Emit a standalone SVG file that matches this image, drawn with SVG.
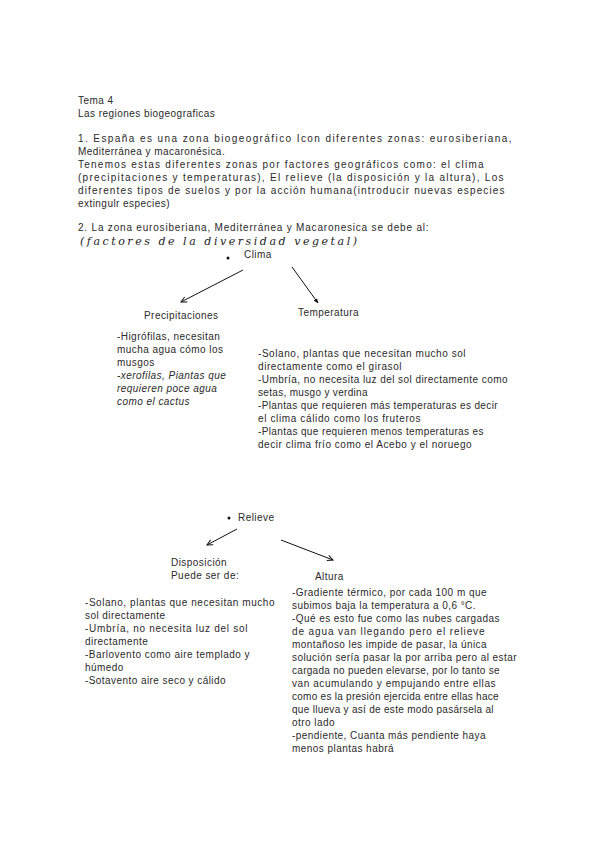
<svg xmlns="http://www.w3.org/2000/svg" width="600" height="848" viewBox="0 0 600 848">
<defs>
<style>
text{font-family:"Liberation Sans",Arial,sans-serif;font-size:10px;letter-spacing:0.45px;fill:#2a2a2a;}
.it{font-style:italic;}
.hw{font-family:"DejaVu Serif",serif;font-style:italic;font-size:11px;letter-spacing:0;fill:#222;}
.c{stroke:#111;stroke-width:1;fill:none;}
</style>
<marker id="ah" viewBox="0 0 10 10" refX="9" refY="5" markerWidth="7" markerHeight="7" orient="auto" markerUnits="userSpaceOnUse">
<path d="M1,1 L9,5 L1,9" fill="none" stroke="#111" stroke-width="1.4"/>
</marker>
<marker id="ahf" viewBox="0 0 10 10" refX="9" refY="5" markerWidth="5" markerHeight="5" orient="auto" markerUnits="userSpaceOnUse">
<path d="M0,1 L10,5 L0,9 Z" fill="#111"/>
</marker>
</defs>
<rect width="600" height="848" fill="#fff"/>

<g id="intro">
<text x="78" y="104">Tema 4</text>
<text x="78" y="117">Las regiones biogeograficas</text>
<text x="78" y="142" textLength="434" lengthAdjust="spacing">1. España es una zona biogeográfico Icon diferentes zonas: eurosiberiana,</text>
<text x="78" y="155">Mediterránea y macaronésica.</text>
<text x="78" y="168" textLength="406" lengthAdjust="spacing">Tenemos estas diferentes zonas por factores geográficos como: el clima</text>
<text x="78" y="181" textLength="426" lengthAdjust="spacing">(precipitaciones y temperaturas), El relieve (la disposición y la altura), Los</text>
<text x="78" y="194" textLength="427" lengthAdjust="spacing">diferentes tipos de suelos y por la acción humana(introducir nuevas especies</text>
<text x="78" y="207">extingulr especies)</text>
<text x="78" y="231" textLength="351" lengthAdjust="spacing">2. La zona eurosiberiana, Mediterránea y Macaronesica se debe al:</text>
<text class="hw" x="80" y="245" textLength="277" lengthAdjust="spacing">(factores de la diversidad vegetal)</text>
</g>

<g id="clima">
<circle cx="228" cy="258" r="1.5" fill="#111"/>
<text x="244" y="258">Clima</text>
</g>

<g id="precipitaciones">
<text x="144" y="319">Precipitaciones</text>
<text x="117" y="340">-Higrófilas, necesitan</text>
<text x="117" y="353">mucha agua cómo los</text>
<text x="117" y="366">musgos</text>
<text class="it" x="117" y="379">-xerofilas, Piantas que</text>
<text class="it" x="117" y="392">requieren poce agua</text>
<text class="it" x="117" y="405">como el cactus</text>
</g>

<g id="temperatura">
<text x="298" y="316">Temperatura</text>
<text x="258" y="357" textLength="208" lengthAdjust="spacing">-Solano, plantas que necesitan mucho sol</text>
<text x="258" y="370" textLength="144" lengthAdjust="spacing">directamente como el girasol</text>
<text x="258" y="383" textLength="250" lengthAdjust="spacing">-Umbría, no necesita luz del sol directamente como</text>
<text x="258" y="396" textLength="110" lengthAdjust="spacing">setas, musgo y verdina</text>
<text x="258" y="409" textLength="240" lengthAdjust="spacing">-Plantas que requieren más temperaturas es decir</text>
<text x="258" y="422" textLength="163" lengthAdjust="spacing">el clima cálido como los fruteros</text>
<text x="258" y="435" textLength="226" lengthAdjust="spacing">-Plantas que requieren menos temperaturas es</text>
<text x="258" y="448" textLength="214" lengthAdjust="spacing">decir clima frío como el Acebo y el noruego</text>
</g>

<g id="relieve">
<circle cx="229" cy="518" r="1.5" fill="#111"/>
<text x="238" y="521">Relieve</text>
</g>

<g id="disposicion">
<text x="171" y="566">Disposición</text>
<text x="171" y="579">Puede ser de:</text>
<text x="85" y="606" textLength="190" lengthAdjust="spacing">-Solano, plantas que necesitan mucho</text>
<text x="85" y="619">sol directamente</text>
<text x="85" y="632" textLength="163" lengthAdjust="spacing">-Umbría, no necesita luz del sol</text>
<text x="85" y="645">directamente</text>
<text x="85" y="658" textLength="165" lengthAdjust="spacing">-Barlovento como aire templado y</text>
<text x="85" y="671">húmedo</text>
<text x="85" y="684" textLength="141" lengthAdjust="spacing">-Sotavento aire seco y cálido</text>
</g>

<g id="altura">
<text x="315" y="580">Altura</text>
<text x="292" y="596" textLength="195" lengthAdjust="spacing">-Gradiente térmico, por cada 100 m que</text>
<text x="292" y="609" textLength="184" lengthAdjust="spacing">subimos baja la temperatura a 0,6 °C.</text>
<text x="292" y="622" textLength="208" lengthAdjust="spacing">-Qué es esto fue como las nubes cargadas</text>
<text x="292" y="635" textLength="193" lengthAdjust="spacing">de agua van llegando pero el relieve</text>
<text x="292" y="648" textLength="195" lengthAdjust="spacing">montañoso les impide de pasar, la única</text>
<text x="292" y="661" textLength="225" lengthAdjust="spacing">solución sería pasar la por arriba pero al estar</text>
<text x="292" y="674" textLength="208" lengthAdjust="spacing">cargada no pueden elevarse, por lo tanto se</text>
<text x="292" y="687" textLength="204" lengthAdjust="spacing">van acumulando y empujando entre ellas</text>
<text x="292" y="700" textLength="207" lengthAdjust="spacing">como es la presión ejercida entre ellas hace</text>
<text x="292" y="713" textLength="202" lengthAdjust="spacing">que llueva y así de este modo pasársela al</text>
<text x="292" y="726">otro lado</text>
<text x="292" y="739" textLength="194" lengthAdjust="spacing">-pendiente, Cuanta más pendiente haya</text>
<text x="292" y="752">menos plantas habrá</text>
</g>

<g id="connectors">
<line class="c" x1="243" y1="270" x2="181" y2="302" marker-end="url(#ah)"/>
<line class="c" x1="292" y1="267" x2="318" y2="303" marker-end="url(#ahf)"/>
<line class="c" x1="237" y1="529" x2="207" y2="545" marker-end="url(#ah)"/>
<line class="c" x1="281" y1="540" x2="333" y2="560" marker-end="url(#ah)"/>
</g>
</svg>
